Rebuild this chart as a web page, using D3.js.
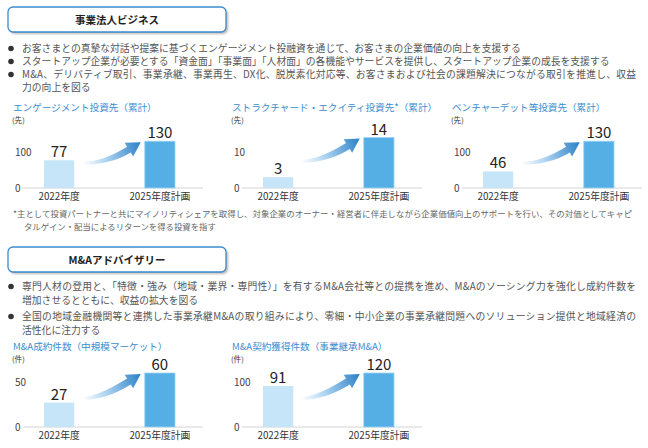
<!DOCTYPE html>
<html>
<head>
<meta charset="utf-8">
<script src="https://cdn.jsdelivr.net/npm/d3@7"></script>
<style>
body { margin: 0; background: #fff; }
text { font-family: "Noto Sans CJK JP", "Noto Sans", sans-serif; }
</style>
</head>
<body>
<div id="chart"></div>
<script>
// text content
const sectionTitles = ['事業法人ビジネス', 'M&Aアドバイザリー'];
const topBullets = [
    ['お客さまとの真摯な対話や提案に基づくエンゲージメント投融資を通じて、お客さまの企業価値の向上を支援する'],
    ['スタートアップ企業が必要とする「資金面」「事業面」「人材面」の各機能やサービスを提供し、スタートアップ企業の成長を支援する'],
    ['M&A、デリバティブ取引、事業承継、事業再生、DX化、脱炭素化対応等、お客さまおよび社会の課題解決につながる取引を推進し、収益', '力の向上を図る']
];
const bottomBullets = [
    ['専門人材の登用と、「特徴・強み（地域・業界・専門性）」を有するM&A会社等との提携を進め、M&Aのソーシング力を強化し成約件数を', '増加させるとともに、収益の拡大を図る'],
    ['全国の地域金融機関等と連携した事業承継M&Aの取り組みにより、零細・中小企業の事業承継問題へのソリューション提供と地域経済の', '活性化に注力する']
];
const footnote = [
    '*主として投資パートナーと共にマイノリティシェアを取得し、対象企業のオーナー・経営者に伴走しながら企業価値向上のサポートを行い、その対価としてキャピ',
    'タルゲイン・配当によるリターンを得る投資を指す'
];

// chart data
const categories = ['2022年度', '2025年度計画'];
const chartTitles = [
    'エンゲージメント投資先（累計）',
    'ストラクチャード・エクイティ投資先*（累計）',
    'ベンチャーデット等投資先（累計）',
    'M&A成約件数（中規模マーケット）',
    'M&A契約獲得件数（事業継承M&A）'
];
const units = ['(先)', '(先)', '(先)', '(件)', '(件)'];
const values2022 = [77, 3, 46, 27, 91];
const values2025 = [130, 14, 130, 60, 120];
const yMaxes = [200, 20, 200, 100, 200];
const yTicks = [[0, 100], [0, 10], [0, 100], [0, 50], [0, 100]];

const width = 648, height = 448;
const panelX = [0, 219, 439, 0, 219];
const rowTop = {base: 188, h: 72, titleY: 110.5};
const rowBottom = {base: 427, h: 90, titleY: 349.5};

const svg = d3.select('#chart').append('svg')
    .attr('width', width)
    .attr('height', height);

const defs = svg.append('defs');
defs.append('filter').attr('id', 'blur')
    .append('feGaussianBlur').attr('stdDeviation', 1);

function header(title, top) {
    svg.append('rect')
        .attr('x', 10).attr('y', top + 2)
        .attr('width', 218).attr('height', 25)
        .attr('rx', 5)
        .attr('fill', '#b5b5b5')
        .attr('filter', 'url(#blur)');
    svg.append('rect')
        .attr('x', 8).attr('y', top)
        .attr('width', 218).attr('height', 25)
        .attr('rx', 5)
        .attr('fill', '#fff')
        .attr('stroke', '#3c8ccd')
        .attr('stroke-width', 1.3);
    svg.append('text')
        .attr('x', 117).attr('y', top + 16.5)
        .attr('text-anchor', 'middle')
        .attr('font-size', 10.5)
        .attr('font-weight', 'bold')
        .attr('fill', '#222')
        .text(title);
}

function bullets(list, ys) {
    let k = 0;
    list.forEach(lines => {
        svg.append('circle')
            .attr('cx', 11).attr('cy', ys[k] - 3.5)
            .attr('r', 2.8)
            .attr('fill', '#333');
        lines.forEach((line, j) => {
            const t = svg.append('text')
                .attr('x', 22).attr('y', ys[k])
                .attr('font-size', 9.8)
                .attr('fill', '#555')
                .text(line);
            if (lines.length > 1 && j == 0) {
                t.attr('textLength', 614).attr('lengthAdjust', 'spacing');
            }
            k++;
        });
    });
}

header(sectionTitles[0], 7);
bullets(topBullets, [52, 65, 78, 91]);
header(sectionTitles[1], 247);
bullets(bottomBullets, [290, 304, 320, 334]);

footnote.forEach((line, j) => {
    const t = svg.append('text')
        .attr('x', j ? 24 : 13).attr('y', 217 + j * 13)
        .attr('font-size', 8.4)
        .attr('fill', '#666')
        .text(line);
    if (j == 0) t.attr('textLength', 619).attr('lengthAdjust', 'spacing');
});

function arrowPath(tx, ty, hx, hy) {
    const a = 32 * Math.PI / 180;
    const d = [Math.cos(a), -Math.sin(a)], n = [Math.sin(a), Math.cos(a)];
    const bx = hx - 14 * d[0], by = hy - 14 * d[1];
    const p = k => [bx + k * n[0], by + k * n[1]];
    const up = p(-3.5), lo = p(3.5), hu = p(-8), hl = p(8);
    const tu = (ty - 1 - up[1]) / Math.sin(a);
    const tl = (ty + 2 - lo[1]) / Math.sin(a);
    const cu = [up[0] - tu * Math.cos(a), ty - 1];
    const cl = [lo[0] - tl * Math.cos(a), ty + 2];
    return `M${tx},${ty - 1}Q${cu}, ${up}L${hu}L${hx},${hy}L${hl}L${lo}Q${cl}, ${tx},${ty + 2}Z`;
}

function drawPanel(i) {
    const row = i < 3 ? rowTop : rowBottom;
    const g = svg.append('g').attr('transform', `translate(${panelX[i]},0)`);

    const x = d3.scaleBand()
        .domain(categories)
        .range([44, 175])
        .paddingInner(0.7);
    const y = d3.scaleLinear()
        .domain([0, yMaxes[i]])
        .range([row.base, row.base - row.h]);

    g.append('text')
        .attr('x', 13).attr('y', row.titleY)
        .attr('font-size', 9.6)
        .attr('fill', '#3a8dd0')
        .text(chartTitles[i]);
    g.append('text')
        .attr('x', 12).attr('y', row.titleY + 12)
        .attr('font-size', 7.6)
        .attr('fill', '#333')
        .text(units[i]);

    // baseline
    g.append('line')
        .attr('x1', 23).attr('x2', 203)
        .attr('y1', row.base).attr('y2', row.base)
        .attr('stroke', '#d4d4d4');

    const yAxis = d3.axisLeft(y).tickValues(yTicks[i]).tickSize(0);
    const yg = g.append('g').call(yAxis);
    yg.select('.domain').remove();
    yg.selectAll('text')
        .attr('x', 15)
        .attr('text-anchor', 'start')
        .attr('font-size', 10)
        .attr('fill', '#444')
        .style('font-family', '"Noto Sans CJK JP", sans-serif');

    const xAxis = d3.axisBottom(x).tickSize(0).tickPadding(5);
    const xg = g.append('g').attr('transform', `translate(0,${row.base})`).call(xAxis);
    xg.select('.domain').remove();
    xg.selectAll('text')
        .attr('font-size', 9.8)
        .attr('fill', '#333')
        .style('font-family', '"Noto Sans CJK JP", sans-serif');

    const data = [values2022[i], values2025[i]];

    // arrow, gradient in the panel's own coordinates
    const tx = x(categories[0]) + x.bandwidth() + 8;
    const hx = x(categories[1]) - 4;
    const hy = y(data[1]) + 1;
    const ty = y(data[1] * 0.54);
    const grad = defs.append('linearGradient')
        .attr('id', 'grad' + i)
        .attr('gradientUnits', 'userSpaceOnUse')
        .attr('x1', tx).attr('y1', ty)
        .attr('x2', hx).attr('y2', hy);
    grad.append('stop').attr('offset', 0).attr('stop-color', '#ffffff');
    grad.append('stop').attr('offset', 0.4).attr('stop-color', '#a9d1f0');
    grad.append('stop').attr('offset', 1).attr('stop-color', '#2a7fc6');
    g.append('path')
        .attr('d', arrowPath(tx, ty, hx, hy))
        .attr('fill', `url(#grad${i})`);

    g.selectAll('rect.bar')
        .data(data)
        .join('rect')
        .attr('class', 'bar')
        .attr('x', (d, j) => x(categories[j]))
        .attr('y', d => y(d))
        .attr('width', x.bandwidth())
        .attr('height', d => y(0) - y(d))
        .attr('fill', (d, j) => j ? '#55afe4' : '#c6e5f8')
        .attr('stroke', (d, j) => j ? '#9fd3f2' : 'none')
        .attr('stroke-width', 0.8);

    g.selectAll('text.val')
        .data(data)
        .join('text')
        .attr('class', 'val')
        .attr('x', (d, j) => x(categories[j]) + x.bandwidth() / 2)
        .attr('y', d => y(d) - 3)
        .attr('text-anchor', 'middle')
        .attr('font-size', 15)
        .attr('fill', '#222')
        .text(d => d);
}

for (let i = 0; i < 5; i++) drawPanel(i);
</script>
</body>
</html>
